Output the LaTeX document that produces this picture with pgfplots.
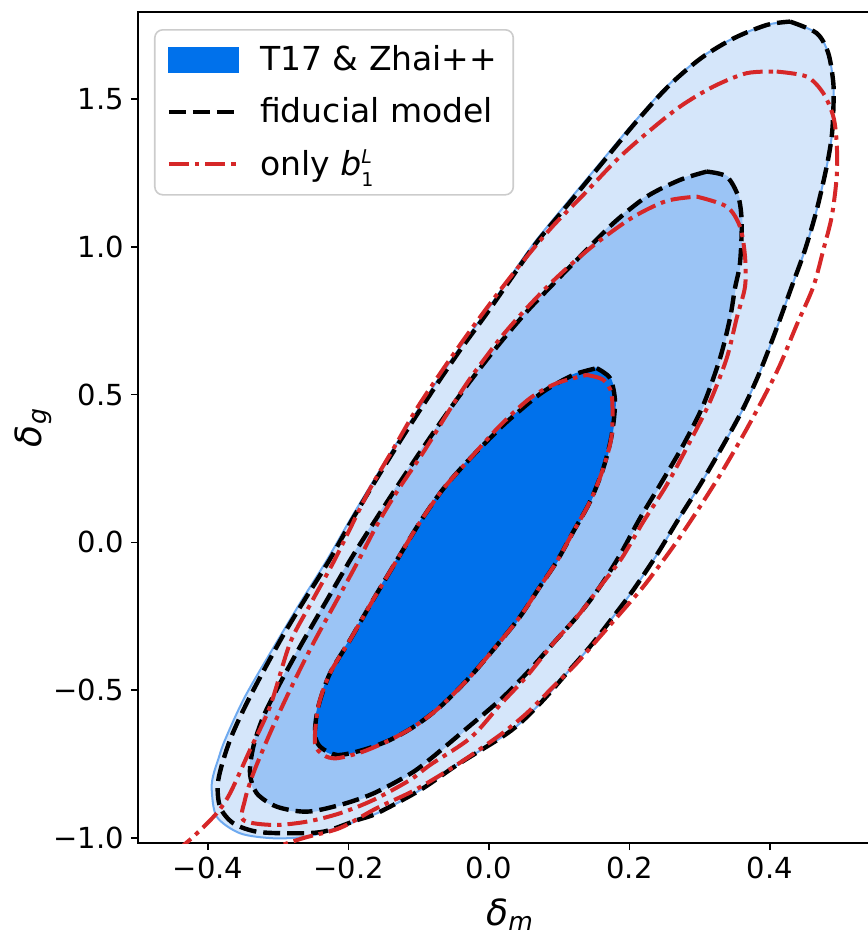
\documentclass[border=0pt]{standalone}
\usepackage{fontspec}
\setmainfont{DejaVu Sans}
\usepackage{pgfplots}
\pgfplotsset{compat=1.18}
\definecolor{cinner}{RGB}{0,113,235}
\definecolor{cmid}{RGB}{155,196,245}
\definecolor{cout}{RGB}{213,230,250}
\definecolor{cedge}{RGB}{110,170,240}
\definecolor{cred}{RGB}{214,39,40}
\definecolor{clegend}{RGB}{204,204,204}
\begin{document}
\begin{tikzpicture}
\begin{axis}[
  at={(0,0)}, anchor=south west,
  scale only axis, width=372.06pt, height=415.5pt,
  xmin=-0.5, xmax=0.56, ymin=-1.017, ymax=1.794,
  xtick={-0.4,-0.2,0,0.2,0.4}, xticklabels={−0.4,−0.2,0.0,0.2,0.4},
  ytick={-1,-0.5,0,0.5,1,1.5}, yticklabels={−1.0,−0.5,0.0,0.5,1.0,1.5},
  tick align=outside, tick pos=left,
  major tick length=3.5pt,
  tick style={line width=0.8pt, black},
  axis line style={line width=0.8pt},
  ticklabel style={font=\fontsize{14.5}{17}\selectfont},
  xlabel={\itshape δ\textsubscript{m}},
  ylabel={\itshape δ\textsubscript{g}},
  xlabel shift=3pt, ylabel shift=-6pt,
  label style={font=\fontsize{18}{21}\selectfont},
  legend style={at={(0.0215,0.9795)}, anchor=north west, draw=clegend, line width=0.8pt,
    rounded corners=4pt, fill=white, font=\fontsize{16.5}{20}\selectfont,
    row sep=8pt, column sep=8pt, inner xsep=6pt, inner ysep=6pt},
  legend cell align=left,
  legend image code/.code={\draw[#1, sharp corners] (0pt,0pt) -- (34.5pt,0pt);},
]
% outer (3 sigma) fill
\addplot[smooth, fill=cout, draw=cedge, line width=1pt, forget plot] coordinates {
(0.4288,1.7615)(0.4668,1.7223)(0.4833,1.6546)(0.4905,1.5531)(0.4905,1.4628)(0.4882,1.3725)(0.4810,1.2710)(0.4668,1.1245)(0.4501,0.9892)(0.4312,0.8650)(0.4098,0.7243)(0.3860,0.5775)(0.3623,0.4537)(0.3338,0.3295)(0.3006,0.1942)(0.2707,0.0815)(0.2389,-0.0426)(0.2056,-0.1610)(0.1771,-0.2514)(0.1439,-0.3528)(0.1107,-0.4428)(0.0774,-0.5332)(0.0442,-0.6120)(0.0157,-0.6627)(-0.0456,-0.7531)(-0.0979,-0.8376)(-0.1595,-0.9164)(-0.2261,-0.9729)(-0.2597,-0.9956)(-0.3073,-1.0010)(-0.3547,-0.9841)(-0.3879,-0.9279)(-0.3950,-0.8376)(-0.3930,-0.7900)(-0.3860,-0.7361)(-0.3761,-0.6685)(-0.3476,-0.5220)(-0.3006,-0.3302)(-0.2664,-0.1949)(-0.2308,-0.0595)(-0.1966,0.0815)(-0.1595,0.2280)(-0.1211,0.3745)(-0.0840,0.5098)(-0.0456,0.6451)(-0.0075,0.7693)(0.0240,0.8765)(0.0641,1.0118)(0.1107,1.1472)(0.1581,1.2825)(0.2056,1.4178)(0.2531,1.5416)(0.3006,1.6377)(0.3480,1.7054)(0.3956,1.7503)(0.4288,1.7615)
};
% middle (2 sigma) fill
\addplot[smooth, fill=cmid, draw=cmid, line width=0.8pt, forget plot] coordinates {
(0.3101,1.2541)(0.3386,1.2372)(0.3551,1.1695)(0.3600,1.0795)(0.3575,0.9442)(0.3504,0.8596)(0.3433,0.7581)(0.3291,0.6228)(0.3053,0.4648)(0.2768,0.3295)(0.2436,0.1942)(0.2151,0.0815)(0.1866,-0.0426)(0.1581,-0.1499)(0.1296,-0.2399)(0.0916,-0.3413)(0.0537,-0.4428)(0.0157,-0.5332)(-0.0360,-0.6380)(-0.0836,-0.7328)(-0.1125,-0.7835)(-0.1648,-0.8495)(-0.2123,-0.8884)(-0.2597,-0.9110)(-0.3024,-0.8941)(-0.3309,-0.8488)(-0.3405,-0.7811)(-0.3357,-0.6911)(-0.3215,-0.5897)(-0.2977,-0.4767)(-0.2664,-0.3413)(-0.2308,-0.1949)(-0.1976,-0.0595)(-0.1695,0.0470)(-0.1339,0.1779)(-0.0983,0.3048)(-0.0627,0.4276)(-0.0271,0.5443)(0.0157,0.6742)(0.0541,0.7811)(0.0912,0.8735)(0.1296,0.9665)(0.1771,1.0795)(0.2246,1.1695)(0.2721,1.2260)(0.3101,1.2541)
};
% inner (1 sigma) fill
\addplot[smooth, fill=cinner, draw=cinner, line width=0.8pt, forget plot] coordinates {
(0.1534,0.5890)(0.1724,0.5552)(0.1795,0.4760)(0.1748,0.3633)(0.1628,0.2507)(0.1439,0.1377)(0.1201,0.0362)(0.0964,-0.0653)(0.0726,-0.1499)(0.0442,-0.2514)(0.0157,-0.3359)(-0.0271,-0.4553)(-0.0698,-0.5568)(-0.1054,-0.6211)(-0.1410,-0.6685)(-0.1795,-0.7023)(-0.2165,-0.7192)(-0.2407,-0.6911)(-0.2479,-0.6458)(-0.2432,-0.5558)(-0.2265,-0.4428)(-0.1980,-0.3302)(-0.1652,-0.1949)(-0.1311,-0.0595)(-0.0979,0.0700)(-0.0645,0.1830)(-0.0266,0.2845)(0.0157,0.3860)(0.0395,0.4367)(0.0774,0.5098)(0.1201,0.5663)(0.1534,0.5890)
};
% fiducial model (black dashed)
\addplot[smooth, black, line width=2.2pt, dash pattern=on 8.5pt off 3.5pt, forget plot] coordinates {
(0.4288,1.7615)(0.4668,1.7223)(0.4833,1.6546)(0.4905,1.5531)(0.4905,1.4628)(0.4882,1.3725)(0.4810,1.2710)(0.4668,1.1245)(0.4501,0.9892)(0.4312,0.8650)(0.4098,0.7243)(0.3860,0.5775)(0.3623,0.4537)(0.3338,0.3295)(0.3006,0.1942)(0.2707,0.0815)(0.2389,-0.0426)(0.2056,-0.1610)(0.1771,-0.2514)(0.1439,-0.3528)(0.1107,-0.4428)(0.0774,-0.5332)(0.0442,-0.6120)(0.0157,-0.6627)(-0.0456,-0.7531)(-0.0979,-0.8376)(-0.1595,-0.9164)(-0.1885,-0.9400)(-0.2360,-0.9787)(-0.2835,-0.9841)(-0.3309,-0.9787)(-0.3642,-0.9503)(-0.3832,-0.8941)(-0.3856,-0.8038)(-0.3689,-0.6685)(-0.3405,-0.5220)(-0.2970,-0.3302)(-0.2628,-0.1949)(-0.2272,-0.0595)(-0.1937,0.0815)(-0.1567,0.2280)(-0.1182,0.3745)(-0.0812,0.5098)(-0.0427,0.6451)(-0.0047,0.7693)(0.0268,0.8765)(0.0670,1.0118)(0.1140,1.1472)(0.1610,1.2825)(0.2080,1.4178)(0.2550,1.5416)(0.3020,1.6377)(0.3490,1.7054)(0.3960,1.7503)(0.4288,1.7615)
};
\addplot[smooth, black, line width=2.2pt, dash pattern=on 8.5pt off 3.5pt, forget plot] coordinates {
(0.3101,1.2541)(0.3386,1.2372)(0.3551,1.1695)(0.3600,1.0795)(0.3575,0.9442)(0.3504,0.8596)(0.3433,0.7581)(0.3291,0.6228)(0.3053,0.4648)(0.2768,0.3295)(0.2436,0.1942)(0.2151,0.0815)(0.1866,-0.0426)(0.1581,-0.1499)(0.1296,-0.2399)(0.0916,-0.3413)(0.0537,-0.4428)(0.0157,-0.5332)(-0.0360,-0.6380)(-0.0836,-0.7328)(-0.1125,-0.7835)(-0.1648,-0.8495)(-0.2123,-0.8884)(-0.2597,-0.9110)(-0.3024,-0.8941)(-0.3309,-0.8488)(-0.3405,-0.7811)(-0.3357,-0.6911)(-0.3215,-0.5897)(-0.2977,-0.4767)(-0.2664,-0.3413)(-0.2308,-0.1949)(-0.1976,-0.0595)(-0.1695,0.0470)(-0.1339,0.1779)(-0.0983,0.3048)(-0.0627,0.4276)(-0.0271,0.5443)(0.0157,0.6742)(0.0541,0.7811)(0.0912,0.8735)(0.1296,0.9665)(0.1771,1.0795)(0.2246,1.1695)(0.2721,1.2260)(0.3101,1.2541)
};
\addplot[smooth, black, line width=2.2pt, dash pattern=on 8.5pt off 3.5pt, forget plot] coordinates {
(0.1534,0.5890)(0.1724,0.5552)(0.1795,0.4760)(0.1748,0.3633)(0.1628,0.2507)(0.1439,0.1377)(0.1201,0.0362)(0.0964,-0.0653)(0.0726,-0.1499)(0.0442,-0.2514)(0.0157,-0.3359)(-0.0271,-0.4553)(-0.0698,-0.5568)(-0.1054,-0.6211)(-0.1410,-0.6685)(-0.1795,-0.7023)(-0.2165,-0.7192)(-0.2407,-0.6911)(-0.2479,-0.6458)(-0.2432,-0.5558)(-0.2265,-0.4428)(-0.1980,-0.3302)(-0.1652,-0.1949)(-0.1311,-0.0595)(-0.0979,0.0700)(-0.0645,0.1830)(-0.0266,0.2845)(0.0157,0.3860)(0.0395,0.4367)(0.0774,0.5098)(0.1201,0.5663)(0.1534,0.5890)
};
% only b1L (red dash-dot)
\addplot[smooth, cred, line width=2pt, dash pattern=on 10pt off 3pt on 2.2pt off 3pt, forget plot] coordinates {
(0.4098,1.5924)(0.4526,1.5755)(0.4762,1.5193)(0.4905,1.4401)(0.4953,1.3502)(0.4953,1.2372)(0.4882,1.1018)(0.4762,0.9892)(0.4620,0.8650)(0.4383,0.7355)(0.4145,0.6001)(0.3907,0.4875)(0.3623,0.3633)(0.3291,0.2280)(0.2959,0.1039)(0.2674,0.0024)(0.2486,-0.0595)(0.2198,-0.1499)(0.1913,-0.2287)(0.1581,-0.3190)(0.1249,-0.4090)(0.0916,-0.4882)(0.0537,-0.5781)(0.0157,-0.6516)(-0.0456,-0.7520)(-0.1054,-0.8376)(-0.1595,-0.8985)(-0.2123,-0.9662)(-0.2640,-1.0000)(-0.3262,-1.0474)(-0.3974,-1.0947)(-0.4544,-1.1150)(-0.4687,-1.0812)(-0.4473,-1.0474)(-0.4212,-0.9956)(-0.3879,-0.9164)(-0.3689,-0.8488)(-0.3405,-0.7023)(-0.3120,-0.5558)(-0.2835,-0.3413)(-0.2550,-0.2118)(-0.2212,-0.0653)(-0.1976,0.0477)(-0.1691,0.1830)(-0.1358,0.3183)(-0.1026,0.4537)(-0.0645,0.5890)(-0.0266,0.7169)(0.0138,0.8464)(0.0513,0.9594)(0.0912,1.0704)(0.1343,1.1752)(0.1819,1.2937)(0.2246,1.3840)(0.2721,1.4740)(0.3195,1.5416)(0.3671,1.5870)(0.4098,1.5924)
};
\addplot[smooth, cred, line width=2pt, dash pattern=on 10pt off 3pt on 2.2pt off 3pt, forget plot] coordinates {
(0.2959,1.1695)(0.3386,1.1357)(0.3575,1.0680)(0.3647,0.9665)(0.3647,0.8650)(0.3528,0.7581)(0.3386,0.6228)(0.3148,0.4760)(0.2863,0.3407)(0.2531,0.1942)(0.2198,0.0700)(0.1890,-0.0538)(0.1581,-0.1499)(0.1296,-0.2399)(0.0916,-0.3413)(0.0537,-0.4533)(0.0157,-0.5501)(-0.0266,-0.6617)(-0.0840,-0.7531)(-0.1125,-0.8038)(-0.1648,-0.8715)(-0.2123,-0.9165)(-0.2597,-0.9449)(-0.3073,-0.9560)(-0.3500,-0.9391)(-0.3476,-0.8708)(-0.3357,-0.7811)(-0.3120,-0.6458)(-0.2835,-0.4993)(-0.2503,-0.3413)(-0.2165,-0.1949)(-0.1880,-0.0707)(-0.1595,0.0589)(-0.1311,0.1715)(-0.0930,0.3068)(-0.0577,0.4422)(-0.0266,0.5552)(0.0161,0.6905)(0.0513,0.7862)(0.0869,0.8742)(0.1225,0.9520)(0.1581,1.0213)(0.2056,1.1008)(0.2531,1.1549)(0.2959,1.1695)
};
\addplot[smooth, cred, line width=2pt, dash pattern=on 10pt off 3pt on 2.2pt off 3pt, forget plot] coordinates {
(0.1392,0.5663)(0.1628,0.5494)(0.1748,0.4986)(0.1748,0.3633)(0.1628,0.2507)(0.1439,0.1377)(0.1201,0.0362)(0.0964,-0.0653)(0.0726,-0.1499)(0.0442,-0.2514)(0.0157,-0.3359)(-0.0271,-0.4553)(-0.0698,-0.5568)(-0.1054,-0.6211)(-0.1410,-0.6685)(-0.1795,-0.7080)(-0.2170,-0.7304)(-0.2360,-0.7192)(-0.2479,-0.6792)(-0.2432,-0.5558)(-0.2265,-0.4428)(-0.1980,-0.3302)(-0.1652,-0.1949)(-0.1311,-0.0595)(-0.0979,0.0700)(-0.0645,0.1830)(-0.0266,0.2845)(0.0157,0.3950)(0.0584,0.4875)(0.0964,0.5382)(0.1392,0.5663)
};
\addlegendimage{legend image code/.code={\fill[cinner, sharp corners] (0pt,-6pt) rectangle (34.5pt,6pt);}}
\addlegendentry{T17 \& Zhai++}
\addlegendimage{black, line width=2.2pt, dash pattern=on 8.5pt off 3.5pt}
\addlegendentry{fiducial model}
\addlegendimage{cred, line width=2pt, dash pattern=on 10pt off 3pt on 2.2pt off 3pt}
\addlegendentry{only {\itshape b}\rlap{\raisebox{6pt}{\fontsize{9.5}{10}\selectfont\itshape L}}\raisebox{-5.2pt}{\fontsize{9.5}{10}\selectfont 1}}
\end{axis}
\pgfresetboundingbox
\useasboundingbox (-69pt,-46pt) rectangle (364.5pt,421.5pt);
\end{tikzpicture}
\end{document}
